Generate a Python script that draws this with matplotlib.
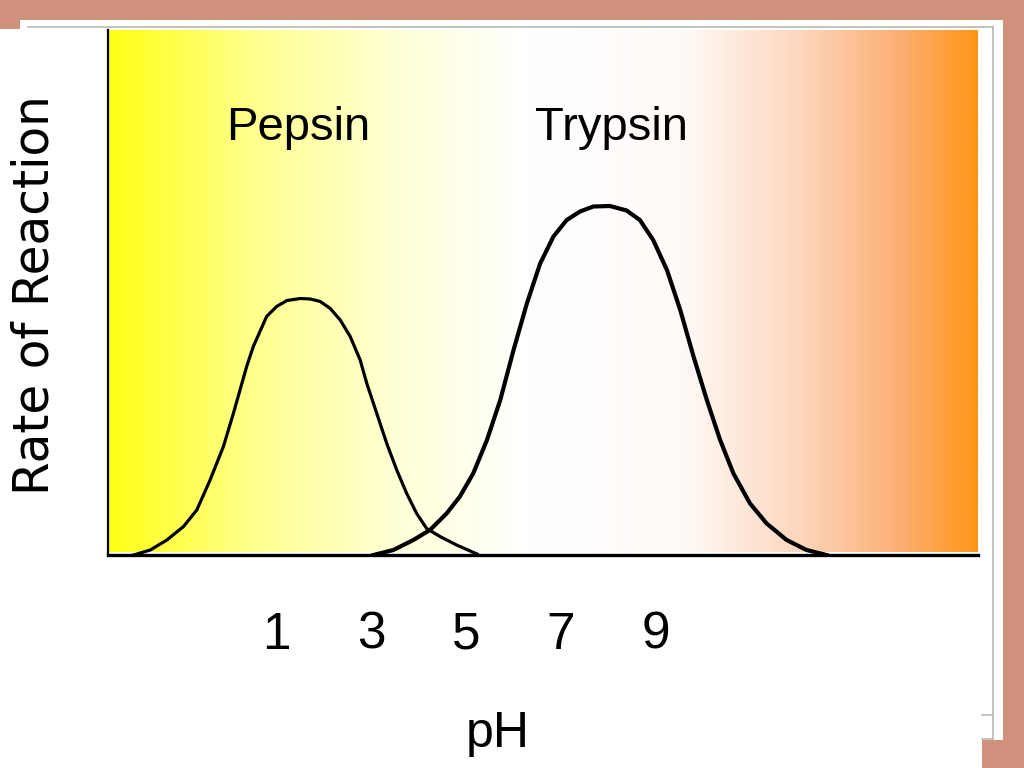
import numpy as np
import matplotlib
matplotlib.use("Agg")
import matplotlib.pyplot as plt
from matplotlib.colors import LinearSegmentedColormap
from matplotlib.patches import Polygon
from matplotlib.lines import Line2D

# values (rate in arbitrary units)
pepsin_ph = [-2.0, -1.65, -1.30, -0.95, -0.67, -0.39, -0.11, 0.10, 0.38, 0.52, 0.80,
             1.01, 1.23, 1.51, 1.72, 1.93, 2.14, 2.35, 2.56, 2.77, 2.91, 3.12, 3.33,
             3.54, 3.75, 3.96, 4.17, 4.45, 4.80, 5.23]
pepsin_rate = [0.0, 0.10, 0.30, 0.57, 0.90, 1.50, 2.17, 2.83, 3.77, 4.17, 4.77,
               4.97, 5.09, 5.13, 5.12, 5.07, 4.93, 4.70, 4.37, 3.90, 3.43, 2.83, 2.23,
               1.70, 1.23, 0.83, 0.53, 0.37, 0.20, 0.02]

trypsin_ph = [3.05, 3.47, 3.89, 4.24, 4.59, 4.87, 5.15, 5.44, 5.72, 6.00, 6.28, 6.56,
              6.84, 7.12, 7.40, 7.68, 8.03, 8.38, 8.66, 8.94, 9.23, 9.51, 9.79, 10.07,
              10.35, 10.63, 10.98, 11.33, 11.75, 12.17, 12.59]
trypsin_rate = [0.0, 0.10, 0.30, 0.50, 0.83, 1.17, 1.63, 2.30, 3.10, 4.10, 5.03, 5.83,
                6.37, 6.70, 6.87, 6.97, 6.98, 6.89, 6.70, 6.30, 5.70, 4.90, 3.97, 3.10,
                2.30, 1.63, 1.03, 0.63, 0.30, 0.10, 0.0]

tick_values = [1, 3, 5, 7, 9]
tick_labels = ["1", "3", "5", "7", "9"]

W, H = 1024, 768
narrow = ["Liberation Sans Narrow", "Liberation Sans", "DejaVu Sans"]


def fx(px):
    return px / W


def fy(py):
    return 1 - py / H


fig = plt.figure(figsize=(10.24, 7.68), dpi=100)
fig.patch.set_facecolor("#cf917c")

# white slide panel
panel = [(20, 20), (1003, 20), (1003, 740), (982, 740), (982, 768),
         (0, 768), (0, 29), (20, 29)]
fig.patches.append(Polygon([(fx(x), fy(y)) for x, y in panel], closed=True,
                           transform=fig.transFigure, facecolor="white",
                           edgecolor="none", zorder=-2))
frame_col = "#b9b9b2"
for xs, ys in [([28, 993], [27, 27]), ([993, 993], [27, 739]),
               ([982, 993], [715, 715]), ([982, 993], [739, 739])]:
    fig.add_artist(Line2D([fx(x) for x in xs], [fy(y) for y in ys],
                          color=frame_col, lw=1.2, transform=fig.transFigure,
                          zorder=-1))

ax = fig.add_axes([fx(108), fy(555), fx(978) - fx(108), (555 - 30) / H])
ax.set_zorder(1)
ax.patch.set_alpha(0)
ax.set_xlim(-2.54, 15.78)
ax.set_ylim(0, 10.5)

# background gradient yellow -> white -> orange
grad = LinearSegmentedColormap.from_list("ph", [
    (0.0, "#ffff14"), (0.163, "#ffff8c"), (0.336, "#ffffd8"), (0.48, "#ffffff"),
    (0.66, "#fffaf8"), (0.795, "#fdd7be"), (0.91, "#fcaf74"), (1.0, "#ff9618")])
ax.imshow(np.linspace(0, 1, 512)[None, :], aspect="auto", cmap=grad,
          extent=[-2.54, 15.78, 0.06, 10.5], zorder=0)

ax.plot(pepsin_ph, pepsin_rate, color="black", lw=2.3, solid_joinstyle="round", zorder=3)
ax.plot(trypsin_ph, trypsin_rate, color="black", lw=3.0, solid_joinstyle="round", zorder=3)

ax.text(1.46, 8.3, "Pepsin", family=narrow, fontsize=34, ha="center", va="baseline")
ax.text(8.07, 8.3, "Trypsin", family=narrow, fontsize=34, ha="center", va="baseline")

for s in ["top", "right"]:
    ax.spines[s].set_visible(False)
ax.spines["left"].set_linewidth(1.6)
ax.spines["bottom"].set_linewidth(2.4)
ax.set_yticks([])
ax.set_xticks(tick_values)
ax.set_xticklabels(tick_labels, family=narrow, fontsize=37)
ax.tick_params(axis="x", length=0, pad=40)

fig.text(fx(498), fy(734), "pH", family=narrow, fontsize=36, ha="center", va="center")
fig.text(fx(35), fy(295), "Rate of Reaction", family="DejaVu Sans", fontsize=35,
         rotation=90, ha="center", va="center")

fig.savefig("out.png", dpi=100, facecolor=fig.get_facecolor())
